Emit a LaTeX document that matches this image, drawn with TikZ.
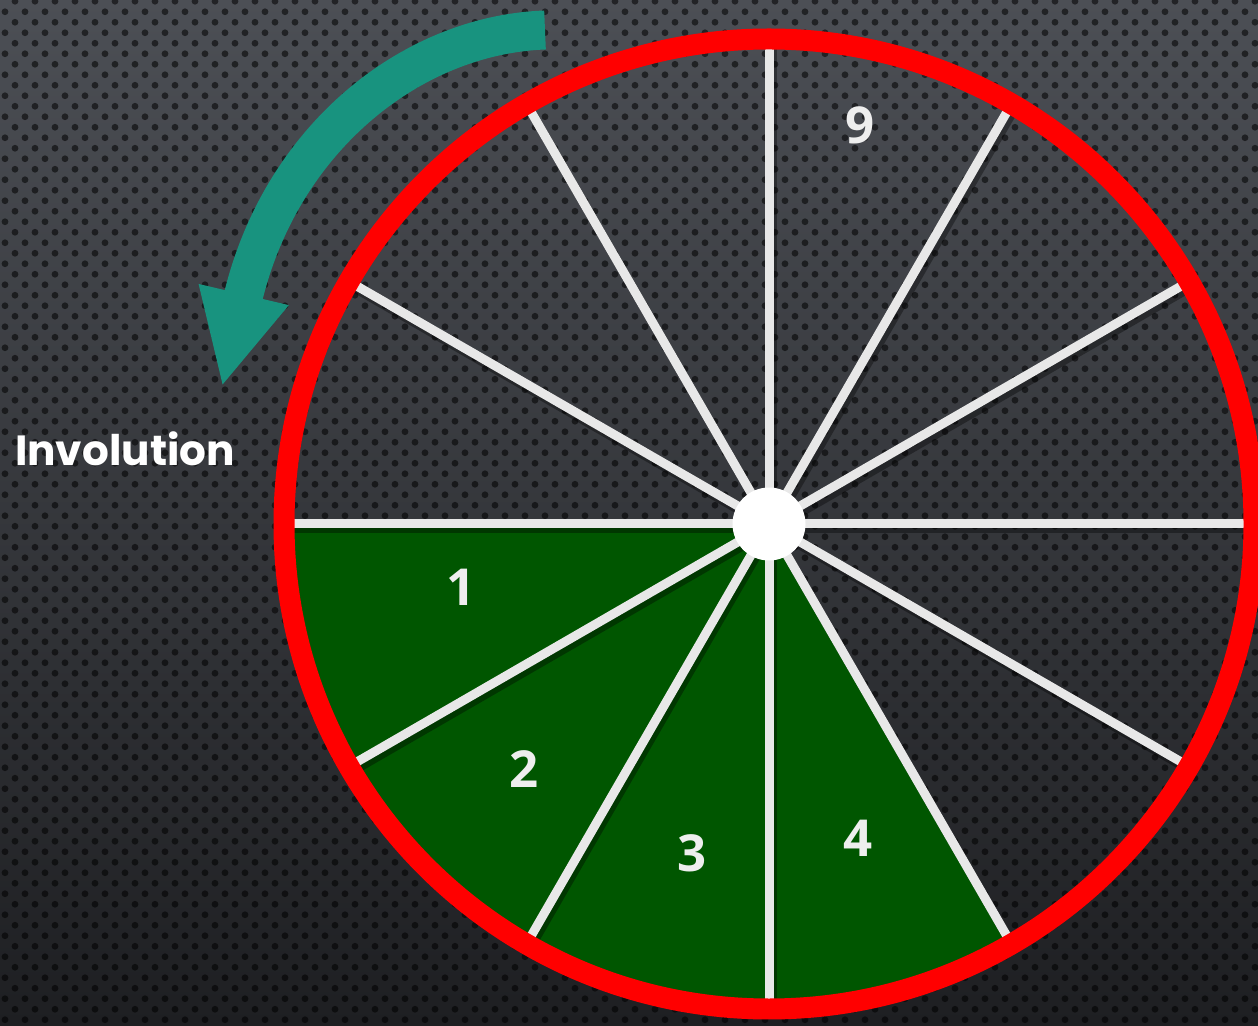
\documentclass[tikz,border=0pt]{standalone}
\usepackage{fontspec}
\setmainfont{Open Sans}
\newfontfamily\titlefont{Poppins}
\usepackage{tikz}
\usetikzlibrary{arrows.meta,calc,patterns.meta}
\definecolor{rimred}{HTML}{FF0000}
\definecolor{slicegreen}{HTML}{005600}
\definecolor{spokegray}{HTML}{E8E8E8}
\definecolor{arrowteal}{HTML}{18937F}
\definecolor{labelwhite}{HTML}{EEEEEE}
\definecolor{bgtop}{HTML}{4C4F55}
\definecolor{bgbottom}{HTML}{1E1F22}
\pgfdeclarepattern{
  name=perforation,
  type=uncolored,
  bottom left={\pgfpoint{0cm}{0cm}},
  top right={\pgfpoint{0.4cm}{0.42cm}},
  tile size={\pgfpoint{0.4cm}{0.42cm}},
  code={
    \pgfpathcircle{\pgfpoint{0.1cm}{0.105cm}}{0.068cm}
    \pgfpathcircle{\pgfpoint{0.3cm}{0.315cm}}{0.068cm}
    \pgfusepath{fill}
  }
}
\tikzset{
  spoke/.style={draw=spokegray,line width=0.18cm},
  spokeshade/.style={draw=black,opacity=0.35,line width=0.18cm},
  rim/.style={draw=rimred,line width=0.42cm},
  hub/.style={circle,fill=white,minimum size=1.46cm,inner sep=0pt},
  slicelabel/.style={text=labelwhite,font=\fontsize{29}{29}\selectfont\bfseries},
  turnarr/.style={-{Triangle[length=1.9cm,width=1.7cm]},line width=0.78cm,
                  draw=arrowteal},
  turnlabel/.style={text=white,font=\titlefont\fontsize{24}{24}\selectfont\bfseries}
}
\begin{document}
\begin{tikzpicture}[x=0.02cm,y=0.02cm]
    \useasboundingbox (0,0) rectangle (1258,1025);
    \shade[top color=bgtop,bottom color=bgbottom] (0,0) rectangle (1258,1025);
    \fill[pattern=perforation,pattern color=black,opacity=0.55] (0,0) rectangle (1258,1025);

    \coordinate (c) at (769,501);

    % green slices 1--4
    \fill[slicegreen] (c) -- ++(180:485) arc[start angle=180,end angle=300,radius=485] -- cycle;

    % spokes
    \foreach \a in {0,30,...,330}
      \draw[spokeshade] ($(c)+(3,-5)$) -- ++(\a:480);
    \foreach \a in {0,30,...,330}
      \draw[spoke] (c) -- ++(\a:485);

    \draw[rim] (c) circle[radius=485];
    \node[hub] (hub) at (c) {};

    \node[slicelabel] (s1) at (461,438) {1};
    \node[slicelabel] (s2) at (524,256) {2};
    \node[slicelabel] (s3) at (692,172) {3};
    \node[slicelabel] (s4) at (858,187) {4};
    \node[slicelabel] (s9) at (860,900) {9};

    % turning arrow
    \coordinate (tail) at (545,995);
    \coordinate (tip) at (222,638);
    \draw[turnarr] (tail) .. controls (410,990) and (280,885) .. (tip);
    \node[turnlabel] (inv) at (125,576) {Involution};
\end{tikzpicture}
\end{document}
